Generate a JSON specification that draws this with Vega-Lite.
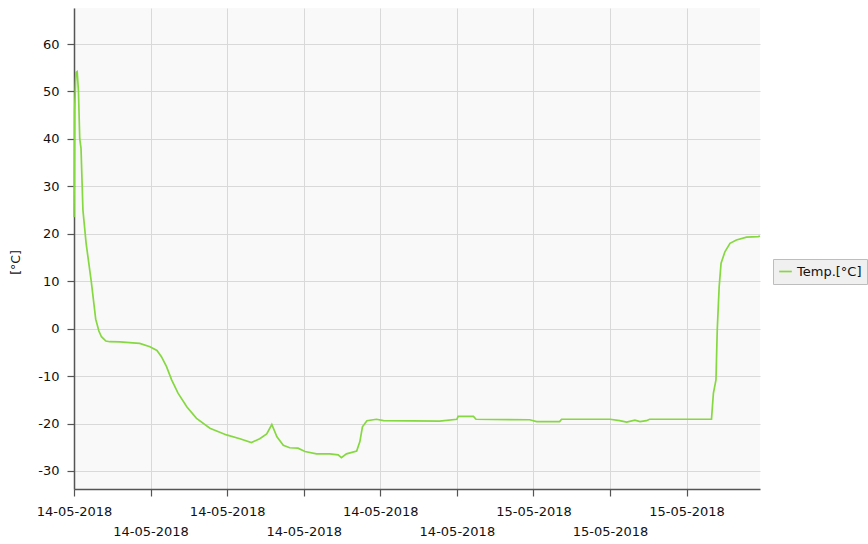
{
  "$schema": "https://vega.github.io/schema/vega-lite/v6.json",
  "autosize": "none",
  "width": 686,
  "height": 481,
  "padding": {"left": 74, "top": 8, "right": 108, "bottom": 55},
  "background": "#ffffff",
  "config": {
    "view": {"fill": "#f9f9f9", "stroke": null},
    "font": "DejaVu Sans"
  },
  "data": {
    "values": [
      {"t": "2018-05-14T12:00", "v": 23.5},
      {"t": "2018-05-14T12:01", "v": 46},
      {"t": "2018-05-14T12:03", "v": 54},
      {"t": "2018-05-14T12:05", "v": 54.2},
      {"t": "2018-05-14T12:07", "v": 50},
      {"t": "2018-05-14T12:09", "v": 40},
      {"t": "2018-05-14T12:11", "v": 38},
      {"t": "2018-05-14T12:14", "v": 25},
      {"t": "2018-05-14T12:19", "v": 18},
      {"t": "2018-05-14T12:27", "v": 10},
      {"t": "2018-05-14T12:34", "v": 2},
      {"t": "2018-05-14T12:39", "v": -0.5},
      {"t": "2018-05-14T12:43", "v": -1.7},
      {"t": "2018-05-14T12:50", "v": -2.6},
      {"t": "2018-05-14T12:56", "v": -2.75},
      {"t": "2018-05-14T13:12", "v": -2.8},
      {"t": "2018-05-14T13:32", "v": -3.0},
      {"t": "2018-05-14T13:43", "v": -3.1},
      {"t": "2018-05-14T13:59", "v": -3.8},
      {"t": "2018-05-14T14:10", "v": -4.6},
      {"t": "2018-05-14T14:17", "v": -5.9},
      {"t": "2018-05-14T14:25", "v": -8.0},
      {"t": "2018-05-14T14:33", "v": -10.8},
      {"t": "2018-05-14T14:43", "v": -13.6},
      {"t": "2018-05-14T14:57", "v": -16.5},
      {"t": "2018-05-14T15:12", "v": -18.9},
      {"t": "2018-05-14T15:33", "v": -21.0},
      {"t": "2018-05-14T15:59", "v": -22.4},
      {"t": "2018-05-14T16:20", "v": -23.2},
      {"t": "2018-05-14T16:38", "v": -24.0},
      {"t": "2018-05-14T16:51", "v": -23.2},
      {"t": "2018-05-14T17:02", "v": -22.2},
      {"t": "2018-05-14T17:10", "v": -20.2},
      {"t": "2018-05-14T17:18", "v": -22.8},
      {"t": "2018-05-14T17:28", "v": -24.6},
      {"t": "2018-05-14T17:38", "v": -25.1},
      {"t": "2018-05-14T17:51", "v": -25.2},
      {"t": "2018-05-14T18:02", "v": -25.9},
      {"t": "2018-05-14T18:20", "v": -26.4},
      {"t": "2018-05-14T18:41", "v": -26.4},
      {"t": "2018-05-14T18:54", "v": -26.6},
      {"t": "2018-05-14T18:59", "v": -27.2},
      {"t": "2018-05-14T19:07", "v": -26.4},
      {"t": "2018-05-14T19:23", "v": -25.8},
      {"t": "2018-05-14T19:28", "v": -23.8},
      {"t": "2018-05-14T19:32", "v": -20.7},
      {"t": "2018-05-14T19:39", "v": -19.4},
      {"t": "2018-05-14T19:54", "v": -19.1},
      {"t": "2018-05-14T20:05", "v": -19.4},
      {"t": "2018-05-14T21:33", "v": -19.5},
      {"t": "2018-05-14T22:00", "v": -19.1},
      {"t": "2018-05-14T22:02", "v": -18.5},
      {"t": "2018-05-14T22:26", "v": -18.5},
      {"t": "2018-05-14T22:30", "v": -19.1},
      {"t": "2018-05-14T23:54", "v": -19.2},
      {"t": "2018-05-15T00:05", "v": -19.6},
      {"t": "2018-05-15T00:41", "v": -19.6},
      {"t": "2018-05-15T00:44", "v": -19.1},
      {"t": "2018-05-15T02:00", "v": -19.1},
      {"t": "2018-05-15T02:15", "v": -19.4},
      {"t": "2018-05-15T02:26", "v": -19.7},
      {"t": "2018-05-15T02:39", "v": -19.3},
      {"t": "2018-05-15T02:47", "v": -19.6},
      {"t": "2018-05-15T02:57", "v": -19.4},
      {"t": "2018-05-15T03:02", "v": -19.1},
      {"t": "2018-05-15T04:39", "v": -19.1},
      {"t": "2018-05-15T04:40", "v": -17.2},
      {"t": "2018-05-15T04:42", "v": -13.6},
      {"t": "2018-05-15T04:46", "v": -10.8},
      {"t": "2018-05-15T04:48", "v": -0.3},
      {"t": "2018-05-15T04:51", "v": 8.8},
      {"t": "2018-05-15T04:54", "v": 13.8},
      {"t": "2018-05-15T05:00", "v": 16.2},
      {"t": "2018-05-15T05:08", "v": 18.0},
      {"t": "2018-05-15T05:18", "v": 18.7},
      {"t": "2018-05-15T05:34", "v": 19.3},
      {"t": "2018-05-15T05:52", "v": 19.4},
      {"t": "2018-05-15T05:55", "v": 19.5}
    ]
  },
  "layer": [
    {
      "mark": {"type": "line", "strokeWidth": 1.7},
      "encoding": {
        "x": {
          "field": "t",
          "type": "temporal",
          "scale": {
            "domain": [
              {"year": 2018, "month": 5, "date": 14, "hours": 12, "minutes": 0},
              {"year": 2018, "month": 5, "date": 15, "hours": 5, "minutes": 55}
            ],
            "nice": false
          },
          "axis": {
            "orient": "bottom",
            "title": null,
            "values": [
              {"year": 2018, "month": 5, "date": 14, "hours": 12},
              {"year": 2018, "month": 5, "date": 14, "hours": 14},
              {"year": 2018, "month": 5, "date": 14, "hours": 16},
              {"year": 2018, "month": 5, "date": 14, "hours": 18},
              {"year": 2018, "month": 5, "date": 14, "hours": 20},
              {"year": 2018, "month": 5, "date": 14, "hours": 22},
              {"year": 2018, "month": 5, "date": 15, "hours": 0},
              {"year": 2018, "month": 5, "date": 15, "hours": 2},
              {"year": 2018, "month": 5, "date": 15, "hours": 4}
            ],
            "labelExpr": "hours(datum.value) % 4 == 2 ? '' : timeFormat(datum.value, '%d-%m-%Y')",
            "labelFont": "DejaVu Sans",
            "labelFontSize": 13,
            "labelColor": "#111111",
            "labelPadding": 9,
            "labelOverlap": false,
            "labelFlush": false,
            "tickSize": 7,
            "tickColor": "#555555",
            "tickWidth": 1.2,
            "domainColor": "#555555",
            "domainWidth": 1.5,
            "grid": true,
            "gridColor": "#d9d9d9",
            "gridWidth": 1
          }
        },
        "y": {
          "field": "v",
          "type": "quantitative",
          "scale": {"domain": [-33.8, 67.6], "nice": false, "zero": false},
          "axis": {
            "title": "[°C]",
            "titleFont": "DejaVu Sans",
            "titleFontSize": 12.5,
            "titleFontWeight": "normal",
            "titleColor": "#111111",
            "titleX": -52,
            "titleY": 254,
            "values": [-30, -20, -10, 0, 10, 20, 30, 40, 50, 60],
            "labelExpr": "'' + datum.value",
            "labelFont": "DejaVu Sans",
            "labelFontSize": 13,
            "labelColor": "#111111",
            "labelPadding": 8,
            "tickSize": 7,
            "tickColor": "#555555",
            "tickWidth": 1.2,
            "domainColor": "#555555",
            "domainWidth": 1.5,
            "grid": true,
            "gridColor": "#d9d9d9",
            "gridWidth": 1
          }
        },
        "color": {
          "datum": "Temp.[°C]",
          "type": "nominal",
          "scale": {"range": ["#86d840"]},
          "legend": {
            "title": null,
            "orient": "none",
            "legendX": 699,
            "legendY": 251,
            "symbolType": "stroke",
            "symbolSize": 160,
            "symbolStrokeWidth": 1.7,
            "labelFont": "DejaVu Sans",
            "labelFontSize": 13,
            "labelColor": "#111111",
            "fillColor": "#f0f0f0",
            "strokeColor": "#bdbdbd",
            "padding": 5
          }
        }
      }
    },
    {
      "mark": {"type": "line", "strokeOpacity": 0},
      "encoding": {
        "x": {
          "field": "t",
          "type": "temporal",
          "axis": {
            "orient": "bottom",
            "title": null,
            "values": [
              {"year": 2018, "month": 5, "date": 14, "hours": 14},
              {"year": 2018, "month": 5, "date": 14, "hours": 18},
              {"year": 2018, "month": 5, "date": 14, "hours": 22},
              {"year": 2018, "month": 5, "date": 15, "hours": 2}
            ],
            "format": "%d-%m-%Y",
            "labelFont": "DejaVu Sans",
            "labelFontSize": 13,
            "labelColor": "#111111",
            "labelPadding": 36,
            "labelOverlap": false,
            "labelFlush": false,
            "ticks": false,
            "domain": false,
            "grid": false
          }
        },
        "y": {"field": "v", "type": "quantitative"}
      }
    }
  ],
  "resolve": {"axis": {"x": "independent"}}
}
